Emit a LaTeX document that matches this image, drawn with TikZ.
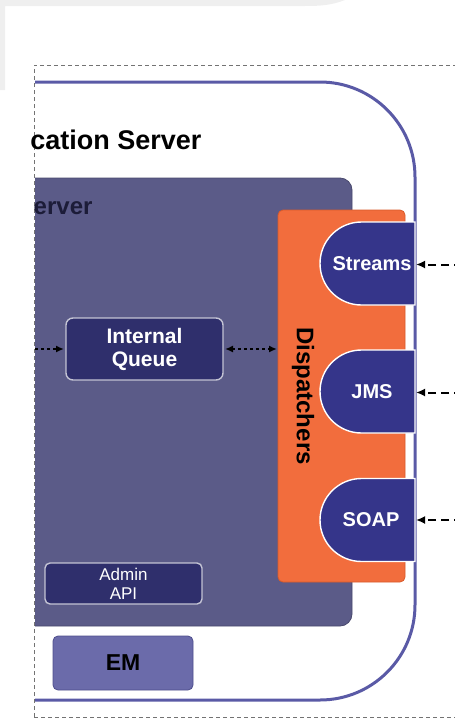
\documentclass[tikz,border=0pt]{standalone}
\usepackage{fontspec}
\setmainfont{Liberation Sans}
\usetikzlibrary{arrows.meta}
\definecolor{srvline}{HTML}{5A5AA6}
\definecolor{innerfill}{HTML}{5B5B88}
\definecolor{navybox}{HTML}{2F2F6C}
\definecolor{tabblue}{HTML}{35358A}
\definecolor{orng}{HTML}{F26D3D}
\definecolor{orngedge}{HTML}{D85A2A}
\definecolor{emfill}{HTML}{6B6BAA}
\definecolor{emedge}{HTML}{4E4E8C}
\definecolor{bggray}{HTML}{EFEFEF}
\definecolor{boxedge}{HTML}{C4C4D4}
\definecolor{srvtext}{HTML}{1C1C38}
\tikzset{
  frame/.style={draw=black!55, line width=1pt, dash pattern=on 4pt off 3pt},
  navynode/.style={draw=boxedge, line width=1.4pt, fill=navybox, rounded corners=7pt,
    text=white, align=center, inner sep=0pt, outer sep=0pt},
  tabshape/.style={fill=tabblue, draw=white, line width=1.4pt},
  tabtext/.style={text=white, font=\fontsize{20}{20}\selectfont\bfseries, inner sep=0pt},
  extarrow/.style={draw=black, line width=2pt, dash pattern=on 8pt off 5pt,
    -{Latex[length=9pt,width=8pt]}},
  intarrow/.style={draw=black, line width=1.8pt, dash pattern=on 3pt off 3pt}
}
\newcommand{\tabat}[1]{%
  \filldraw[tabshape] (415,#1-41.5) -- (361.5,#1-41.5)
    arc[start angle=270, end angle=90, radius=41.5] -- (415,#1+41.5) -- cycle;}
\begin{document}
\begin{tikzpicture}[x=1pt,y=-1pt]
\useasboundingbox (0,0) rectangle (455,720);
% light grey backdrop in the upper left corner
\fill[bggray] (0,0) -- (345,0) .. controls (332,5) and (322,6) .. (305,6)
  -- (5,6) -- (5,90) -- (0,90) -- cycle;
% dashed outer frame
\draw[frame] (34,717) -- (34,65) -- (460,65);
\draw[frame] (34,717) -- (460,717);

\begin{scope}
\clip (35,0) rectangle (460,720);
% application server outline
\draw[srvline, line width=3pt, rounded corners=95pt]
  (10,82) -- (415,82) -- (415,700) -- (10,700);
% inner server block
\node[fill=innerfill, draw=innerfill!80!black, line width=0.8pt, rounded corners=12pt,
  minimum width=342pt, minimum height=448pt, inner sep=0pt, outer sep=0pt,
  anchor=north west] (msgsrv) at (10,178) {};
\end{scope}
\node[anchor=base east, font=\fontsize{27}{27}\selectfont\bfseries] (apptitle)
  at (205,149) {cation Server};
\node[anchor=base east, text=srvtext, font=\fontsize{24}{24}\selectfont\bfseries]
  (srvtitle) at (96,214) {erver};

% dispatchers
\node[fill=orng, draw=orngedge, line width=0.8pt, rounded corners=5pt,
  minimum width=127pt, minimum height=372pt, inner sep=0pt, outer sep=1pt]
  (disp) at (341.5,396) {};
\node[rotate=-90, font=\fontsize{24}{24}\selectfont\bfseries] (disptext)
  at (303,396) {Dispatchers};

% protocol tabs
\tabat{263.5}
\tabat{391.5}
\tabat{520}
\node[tabtext] (streams) at (372,264) {Streams};
\node[tabtext] (jms) at (372,392) {JMS};
\node[tabtext] (soap) at (371,520) {SOAP};
\coordinate (streamsR) at (416,264.5);
\coordinate (jmsR) at (416,392.5);
\coordinate (soapR) at (416,520);
\coordinate (streamsIn) at (462,264.5);
\coordinate (jmsIn) at (462,392.5);
\coordinate (soapIn) at (462,520);
\draw[extarrow] (streamsIn) -- (streamsR);
\draw[extarrow] (jmsIn) -- (jmsR);
\draw[extarrow] (soapIn) -- (soapR);

% internal queue
\node[navynode, minimum width=157pt, minimum height=62pt, outer sep=2pt,
  font=\fontsize{21}{23}\selectfont\bfseries] (queue) at (144.5,349)
  {Internal\\Queue};
\coordinate (leftIn) at (35,349);
\draw[intarrow, -{Latex[length=8pt,width=7pt]}] (leftIn) -- (queue.west);
\draw[intarrow, {Latex[length=8pt,width=7pt]}-{Latex[length=8pt,width=7pt]}]
  (queue.east) -- (queue.east -| disp.west);

% admin api
\node[navynode, rounded corners=5pt, minimum width=157pt, minimum height=41pt,
  font=\fontsize{17}{19}\selectfont] (admin) at (123.5,583.5) {Admin\\API};

% EM
\node[fill=emfill, draw=emedge, line width=0.8pt, rounded corners=5pt,
  minimum width=140pt, minimum height=54pt, inner sep=0pt,
  font=\fontsize{23}{23}\selectfont\bfseries] (em) at (123,663) {EM};
\end{tikzpicture}
\end{document}
